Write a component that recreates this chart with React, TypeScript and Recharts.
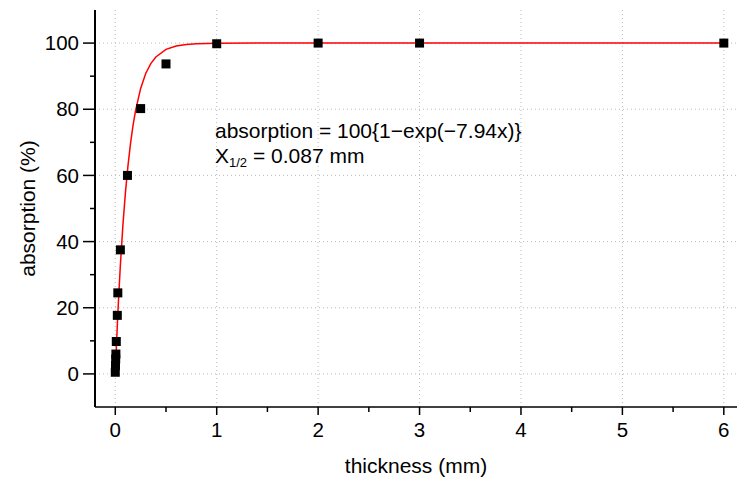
import React from 'react';
import { ComposedChart, Scatter, XAxis, YAxis, CartesianGrid } from 'recharts';

const measuredX = [0, 0.002, 0.004, 0.006, 0.01, 0.02, 0.025, 0.05, 0.12, 0.25, 0.5, 1, 2, 3, 6];
const measuredY = [0.5, 2.5, 4.5, 6, 9.8, 17.7, 24.5, 37.5, 60, 80.2, 93.7, 99.8, 100, 100, 100];

const fitX = [0, 0.01, 0.02, 0.03, 0.04, 0.05, 0.075, 0.1, 0.125, 0.15, 0.175, 0.2, 0.25, 0.3, 0.35, 0.4, 0.5, 0.6, 0.7, 0.8, 1.0, 1.5, 6];
const fitY = [0, 7.6, 14.7, 21.2, 27.2, 32.8, 44.9, 54.8, 62.9, 69.6, 75.1, 79.6, 86.3, 90.8, 93.8, 95.8, 98.1, 99.1, 99.6, 99.8, 99.96, 100, 100];

const xTicks = [0, 0.5, 1, 1.5, 2, 2.5, 3, 3.5, 4, 4.5, 5, 5.5, 6];
const xMajor = [0, 1, 2, 3, 4, 5, 6];
const yTicks = [-10, 0, 10, 20, 30, 40, 50, 60, 70, 80, 90, 100, 110];
const yMajor = [0, 20, 40, 60, 80, 100];

const measured = measuredX.map((x, i) => ({ x, y: measuredY[i] }));
const fit = fitX.map((x, i) => ({ x, y: fitY[i] }));

const FONT = 'Arial, "Liberation Sans", sans-serif';

const XTick = (props: any) => {
  const { x, y, payload } = props;
  const major = xMajor.includes(payload.value);
  return (
    <g>
      <line x1={x} x2={x} y1={y} y2={y + (major ? 8 : 5)} stroke="#000" strokeWidth={1.5} />
      {major && (
        <text x={x} y={y + 30} textAnchor="middle" fontSize={20.5} fontFamily={FONT} fill="#000">
          {payload.value}
        </text>
      )}
    </g>
  );
};

const YTick = (props: any) => {
  const { x, y, payload } = props;
  if (payload.value < -5 || payload.value > 105) return <g />;
  const major = yMajor.includes(payload.value);
  return (
    <g>
      <line x1={x} x2={x - (major ? 12 : 5)} y1={y} y2={y} stroke="#000" strokeWidth={1.5} />
      {major && (
        <text x={x - 16} y={y} dy="0.35em" textAnchor="end" fontSize={20.5} fontFamily={FONT} fill="#000">
          {payload.value}
        </text>
      )}
    </g>
  );
};

const Square = (props: any) => {
  const { cx, cy } = props;
  if (cx == null || cy == null) return <g />;
  return <rect x={cx - 4.5} y={cy - 4.5} width={9} height={9} fill="#000" />;
};

const NoShape = () => <g />;

export default function App() {
  return (
    <div style={{ position: 'absolute', left: 0, top: 0, width: 737, height: 482, background: '#fff', overflow: 'hidden', fontFamily: FONT }}>
      <ComposedChart width={737} height={482} margin={{ top: 10, right: 0, bottom: 0, left: 0 }}>
        <CartesianGrid
          stroke="#bbb"
          strokeDasharray="1 3"
          horizontalValues={yMajor}
          verticalValues={xMajor}
        />
        <XAxis
          xAxisId="top"
          orientation="top"
          type="number"
          dataKey="x"
          domain={[-0.2, 6.13]}
          tick={false}
          tickLine={false}
          height={0}
          axisLine={{ stroke: '#333', strokeWidth: 1.5 }}
        />
        <XAxis
          type="number"
          dataKey="x"
          domain={[-0.2, 6.13]}
          ticks={xTicks}
          interval={0}
          allowDataOverflow
          tick={<XTick />}
          tickLine={false}
          tickSize={0}
          tickMargin={0}
          height={75}
          axisLine={{ stroke: '#000', strokeWidth: 1.5 }}
          label={{ value: 'thickness (mm)', position: 'insideBottom', offset: 9, fontSize: 21, fontFamily: FONT, fill: '#000' }}
        />
        <YAxis
          type="number"
          dataKey="y"
          domain={[-10, 110]}
          ticks={yTicks}
          interval={0}
          allowDataOverflow
          width={95}
          tick={<YTick />}
          tickLine={false}
          tickSize={0}
          tickMargin={0}
          axisLine={{ stroke: '#000', strokeWidth: 2 }}
          label={{ value: 'absorption (%)', angle: -90, position: 'insideLeft', offset: 28, style: { textAnchor: 'middle' }, fontSize: 21, fontFamily: FONT, fill: '#000' }}
        />
        <Scatter data={fit} line={{ stroke: '#ff0000', strokeWidth: 1.5 }} lineType="joint" shape={<NoShape />} isAnimationActive={false} />
        <Scatter data={measured} shape={<Square />} isAnimationActive={false} />
      </ComposedChart>
      <div style={{ position: 'absolute', left: 215, top: 118, fontSize: 21, lineHeight: '25px', color: '#000', whiteSpace: 'nowrap' }}>
        <div>absorption = 100{'{'}1−exp(−7.94x){'}'}</div>
        <div>
          X<sub style={{ fontSize: 13, verticalAlign: -4, lineHeight: 0 }}>1/2</sub> = 0.087 mm
        </div>
      </div>
    </div>
  );
}
